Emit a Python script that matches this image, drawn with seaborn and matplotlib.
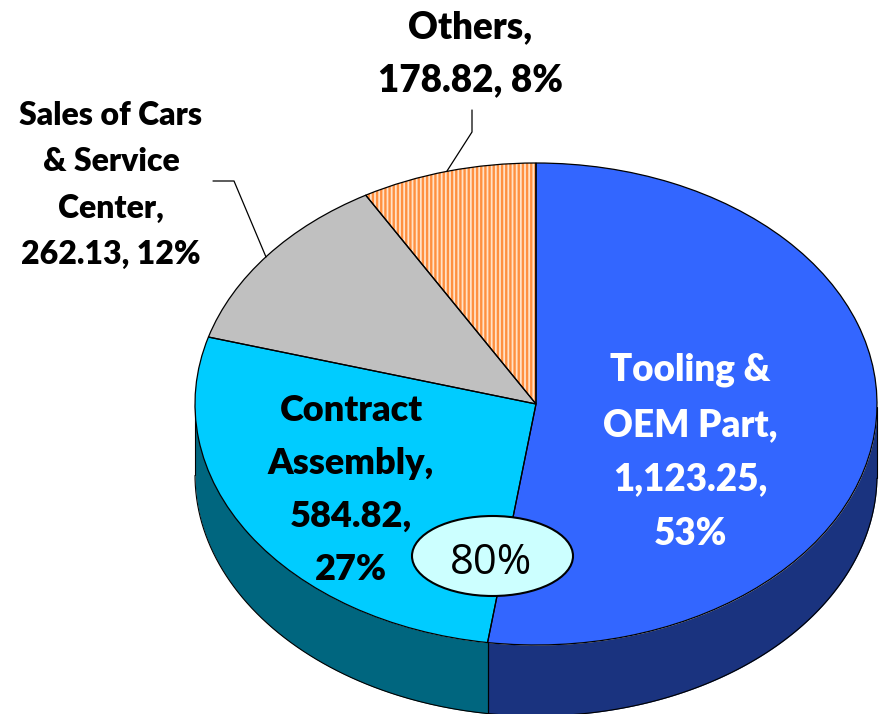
import numpy as np
import matplotlib
matplotlib.use("Agg")
import matplotlib.pyplot as plt
from matplotlib.patches import Ellipse
from matplotlib.lines import Line2D
import seaborn as sns

categories = ["Tooling &\nOEM Part,\n1,123.25,\n53%", "Contract\nAssembly,\n584.82,\n27%",
              "Sales of Cars\n& Service\nCenter,\n262.13, 12%", "Others,\n178.82, 8%"]
values = [1123.25, 584.82, 262.13, 178.82]
top_colors = ["#3366FF", "#00CCFF", "#C0C0C0", "#FFE2C8"]
side_colors = ["#1A337F", "#00667F", "#606060", "#7F3300"]
label_colors = ["white", "black", "black", "black"]
label_pos = [(690, 452), (351, 490), (111, 185), (470, 54)]
label_size = [26.5, 26, 23, 26.5]
label_spacing = [1.74, 1.73, 1.71, 1.68]
callout = "80%"

W, H = 880, 714
cx, cy, rx, ry, depth = 536, 404, 341, 241, 71

sns.set_theme(style="white")
plt.rcParams["font.family"] = ["Lato", "DejaVu Sans"]
plt.rcParams["hatch.linewidth"] = 1.7

fig = plt.figure(figsize=(W / 100, H / 100), dpi=100)
ax = fig.add_axes([0, 0, 1, 1])


def fx(x, y):
    return x / W, 1 - y / H


# side wall first, only the front half shows
ends = np.cumsum(values) / np.sum(values)
starts = np.r_[0, ends[:-1]]
d = depth / ry
for s, e, c in zip(starts, ends, side_colors):
    t = np.linspace(s, e, 200) * 2 * np.pi
    t = t[(t >= np.pi / 2) & (t <= 3 * np.pi / 2)]
    if len(t) == 0:
        continue
    xs = np.sin(t)
    ys = np.cos(t)
    ax.fill_between(xs, ys, ys - d, color=c, lw=0, zorder=1)
    ax.plot(xs, ys - d, color="black", lw=0.8, zorder=2)
    ax.plot([xs[0], xs[0]], [ys[0], ys[0] - d], color="black", lw=0.8, zorder=2)
    ax.plot([xs[-1], xs[-1]], [ys[-1], ys[-1] - d], color="black", lw=0.8, zorder=2)

wedges, _ = ax.pie(values, colors=top_colors, startangle=90, counterclock=False,
                   wedgeprops={"linewidth": 0, "zorder": 3})
wedges[3].set(hatch="||||", edgecolor="#FF9040", linewidth=0)
outline, _ = ax.pie(values, colors=["none"] * 4, startangle=90, counterclock=False,
                    wedgeprops={"linewidth": 0.9, "edgecolor": "black", "zorder": 4})

ax.set_aspect("auto")
ax.set_xlim(-cx / rx, (W - cx) / rx)
ax.set_ylim(-(H - cy) / ry, cy / ry)
ax.axis("off")

for txt, pos, col, fs, ls in zip(categories, label_pos, label_colors, label_size, label_spacing):
    fig.text(*fx(*pos), txt, color=col, fontsize=fs, fontweight=800, ha="center",
             va="center", linespacing=ls, zorder=6)

# leader lines
for xs, ys in [([447, 472, 472], [171, 132, 110]), ([266, 234, 213], [257, 181, 181])]:
    fig.add_artist(Line2D([x / W for x in xs], [1 - y / H for y in ys], color="black", lw=0.9))

oval = Ellipse(fx(492.5, 556), 161 / W, 80 / H, transform=fig.transFigure, facecolor="#CCFFFF",
               edgecolor="black", lw=1.5, zorder=5)
fig.add_artist(oval)
fig.text(*fx(491, 563), callout, fontsize=30, color="black", family="Open Sans",
         ha="center", va="center", zorder=6)

fig.savefig("out.png", dpi=100)
